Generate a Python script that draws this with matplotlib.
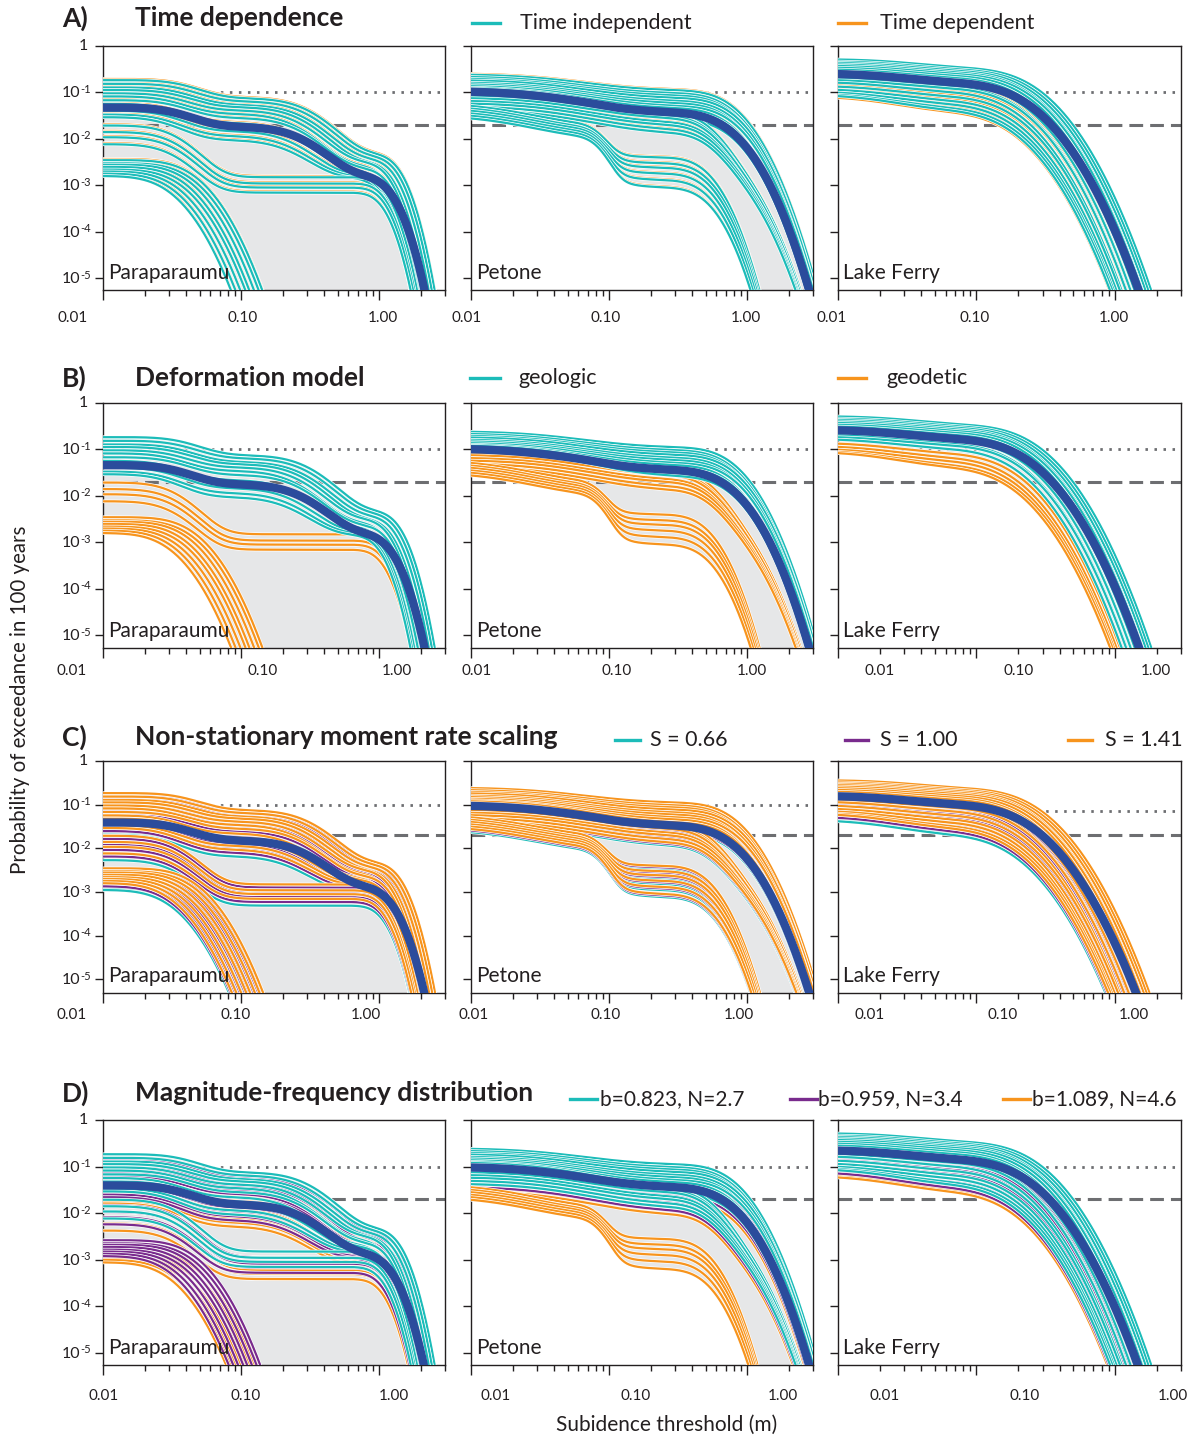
import math
import numpy as np
import matplotlib
matplotlib.use('Agg')
import matplotlib.pyplot as plt
import matplotlib.patheffects as pe
from matplotlib.lines import Line2D
from matplotlib.ticker import FixedLocator, LogLocator, NullFormatter, NullLocator

plt.rcParams['font.family'] = ['Lato', 'DejaVu Sans']

TEAL = '#1cbcb9'
ORANGE = '#f7941d'
PURPLE = '#792b8d'
MEAN_BLUE = '#2b4c9c'
FILL_GREY = '#e6e7e8'
LEVEL_GREY = '#6d6e71'
INK = '#231f20'

SITES = ['Paraparaumu', 'Petone', 'Lake Ferry']

# lognormal displacement components per site: (median subsidence m, log-sigma)
COMPONENTS = {
    'Paraparaumu': [(0.035, 0.4), (0.25, 0.45), (1.1, 0.2)],
    'Petone': [(0.02, 0.8), (0.05, 0.9), (0.085, 0.2), (0.5, 0.3), (0.75, 0.375)],
    'Lake Ferry': [(0.025, 0.7), (0.17, 0.5)],
}

# logic-tree branches: rate of each component, then a shift applied to the medians
GEOLOGIC = {
    'Paraparaumu': [
        (0.110, 0.070, 0.0045, 1.25), (0.090, 0.060, 0.0040, 1.20),
        (0.075, 0.050, 0.0035, 1.15), (0.065, 0.045, 0.0030, 1.10),
        (0.055, 0.038, 0.0030, 1.05), (0.048, 0.032, 0.0025, 1.00),
        (0.040, 0.026, 0.0022, 1.05), (0.035, 0.020, 0.0020, 0.95),
        (0.030, 0.016, 0.0018, 1.00), (0.026, 0.013, 0.0016, 0.95),
        (0.022, 0.010, 0.0015, 0.92), (0.020, 0.008, 0.0014, 0.90),
    ],
    'Petone': [
        (0, 0.135, 0, 0, 0.110, 1.00), (0, 0.125, 0, 0, 0.095, 0.98),
        (0, 0.115, 0, 0, 0.085, 0.97), (0, 0.110, 0, 0, 0.075, 1.00),
        (0, 0.100, 0, 0, 0.065, 0.98), (0, 0.095, 0, 0, 0.058, 0.96),
        (0, 0.090, 0, 0, 0.050, 1.00), (0, 0.085, 0, 0, 0.045, 0.95),
        (0, 0.085, 0, 0, 0.038, 0.98), (0, 0.080, 0, 0, 0.032, 0.96),
        (0, 0.080, 0, 0, 0.028, 1.00), (0, 0.075, 0, 0, 0.026, 0.95),
    ],
    'Lake Ferry': [
        (0.19, 0.33, 1.35), (0.17, 0.30, 1.30), (0.16, 0.28, 1.25),
        (0.15, 0.26, 1.20), (0.14, 0.24, 1.20), (0.13, 0.22, 1.15),
        (0.12, 0.20, 1.10), (0.11, 0.18, 1.10), (0.10, 0.16, 1.05),
        (0.09, 0.15, 1.05), (0.08, 0.13, 1.00), (0.07, 0.12, 1.00),
        (0.07, 0.10, 0.95),
    ],
}
GEODETIC = {
    'Paraparaumu': [
        (0.018, 0, 0.0015, 1.00), (0.013, 0, 0.0011, 0.98),
        (0.010, 0, 0.0009, 0.97), (0.007, 0, 0.0007, 0.95),
        (0.0035, 0, 0, 1.25), (0.0030, 0, 0, 1.20), (0.0028, 0, 0, 1.12),
        (0.0025, 0, 0, 1.05), (0.0022, 0, 0, 1.00), (0.0020, 0, 0, 0.93),
        (0.0018, 0, 0, 0.87), (0.0016, 0, 0, 0.82),
    ],
    'Petone': [
        (0, 0.060, 0, 0.030, 0.0060, 1.00), (0, 0.055, 0, 0.025, 0.0050, 1.00),
        (0, 0.050, 0, 0.022, 0.0050, 1.00), (0, 0.045, 0, 0.018, 0.0040, 1.00),
        (0, 0.040, 0, 0.015, 0.0040, 1.00), (0, 0.035, 0, 0.012, 0.0035, 1.00),
        (0, 0.030, 0, 0.010, 0.0030, 1.00),
        (0.040, 0, 0.015, 0.0040, 0, 1.00), (0.036, 0, 0.013, 0.0030, 0, 1.00),
        (0.032, 0, 0.012, 0.0024, 0, 1.00), (0.028, 0, 0.011, 0.0018, 0, 1.00),
        (0.025, 0, 0.010, 0.0013, 0, 1.00), (0.022, 0, 0.009, 0.0009, 0, 1.00),
    ],
    'Lake Ferry': [
        (0.060, 0.080, 0.95), (0.055, 0.065, 0.92), (0.050, 0.055, 0.90),
        (0.050, 0.045, 0.90), (0.050, 0.040, 0.88),
    ],
}

# rate multipliers for the alternative model choices
TIME_DEPENDENT = {'Paraparaumu': 1.06, 'Petone': 1.05, 'Lake Ferry': 0.92}
S_VALUES = ['S = 0.66', 'S = 1.00', 'S = 1.41']
S_SCALE = {'Paraparaumu': [0.70, 0.85, 1.00], 'Petone': [0.85, 0.93, 1.00],
           'Lake Ferry': [0.50, 0.60, 0.70]}
B_VALUES = ['b=0.823, N=2.7', 'b=0.959, N=3.4', 'b=1.089, N=4.6']
B_SCALE = {'Paraparaumu': [1.00, 0.75, 0.55], 'Petone': [1.00, 0.85, 0.70],
           'Lake Ferry': [1.00, 0.85, 0.70]}
# which branches enter each b-value group: 'tail' keeps those with a large-slip part
B_MEMBERS = {'Paraparaumu': ['tail', 'all', 'all'], 'Petone': ['tail', 'tail', 'all'],
             'Lake Ferry': ['all', 'all', 'all']}

DOTTED_LEVEL = [[0.1, 0.1, 0.1], [0.1, 0.1, 0.1], [0.1, 0.1, 0.07], [0.1, 0.1, 0.1]]
DASHED_LEVEL = [[0.02, 0.02, 0.02]] * 4

TITLES = [('A)', 'Time dependence'), ('B)', 'Deformation model'),
          ('C)', 'Non-stationary moment rate scaling'),
          ('D)', 'Magnitude-frequency distribution')]
X_TICK_TEXT = ['0.01', '0.10', '1.00']
Y_TICK_EXP = [0, -1, -2, -3, -4, -5]

# ---- layout (pixels of the 1195 x 1439 canvas) ----
W, H = 1195, 1439
COL_L = [103, 471, 838]
COL_R = [445, 813, 1181]
ROW_T = [46, 403, 761, 1120]
ROW_B = [290, 648, 993, 1365]
Y_BOTTOM_EXP = [-5.25, -5.27, -5.31, -5.26]
XLAB_PX = [
    [(73, 243, 383), (467, 606, 746), (832, 975, 1114)],
    [(72, 263, 397), (477, 617, 752), (880, 1019, 1156)],
    [(72, 236, 366), (474, 606, 739), (870, 1003, 1134)],
    [(104, 246, 394), (496, 636, 783), (885, 1025, 1173)],
]
XLAB_Y = [318, 671, 1015, 1396]
TITLE_Y = [18, 378, 737, 1093]
LEGEND_ITEMS = [
    [(472, 500, 520, 'Time independent', TEAL), (838, 866, 880, 'Time dependent', ORANGE)],
    [(470, 500, 518, 'geologic', TEAL), (838, 866, 886, 'geodetic', ORANGE)],
    [(615, 640, 650, S_VALUES[0], TEAL), (845, 868, 880, S_VALUES[1], PURPLE),
     (1068, 1092, 1105, S_VALUES[2], ORANGE)],
    [(570, 597, 600, B_VALUES[0], TEAL), (790, 817, 818, B_VALUES[1], PURPLE),
     (1003, 1030, 1032, B_VALUES[2], ORANGE)],
]
LEGEND_Y = [23, 378, 740, 1099]
PT = 0.72  # points per pixel at 100 dpi

X = np.logspace(-2.2, np.log10(3.3), 500)
_erfc = np.vectorize(math.erfc)


def exceedance(branch, comps, scale=1.0):
    rates, shift = branch[:-1], branch[-1]
    p = np.zeros_like(X)
    for r, (med, sig) in zip(rates, comps):
        if r > 0:
            p += scale * r * 0.5 * _erfc(np.log(X / (med * shift)) / (sig * math.sqrt(2)))
    return np.clip(p, 1e-12, None)


def panel_curves(row, site):
    """list of (color, curve) in drawing order"""
    comps = COMPONENTS[site]
    every = GEOLOGIC[site] + GEODETIC[site]
    out = []
    if row == 0:
        out += [(ORANGE, exceedance(b, comps, TIME_DEPENDENT[site])) for b in every]
        out += [(TEAL, exceedance(b, comps)) for b in every]
    elif row == 1:
        out += [(ORANGE, exceedance(b, comps)) for b in GEODETIC[site]]
        out += [(TEAL, exceedance(b, comps)) for b in GEOLOGIC[site]]
    elif row == 2:
        f = S_SCALE[site]
        for b in every:
            for color, k in zip([TEAL, PURPLE, ORANGE], f):
                out.append((color, exceedance(b, comps, k)))
    else:
        f = B_SCALE[site]
        for b in every:
            for g, color in [(2, ORANGE), (1, PURPLE), (0, TEAL)]:
                if B_MEMBERS[site][g] == 'tail' and b[-2] <= 0:
                    continue
                out.append((color, exceedance(b, comps, f[g])))
    return out


fig = plt.figure(figsize=(W / 100, H / 100), dpi=100)
white_edge = [pe.Stroke(linewidth=2.6, foreground='white'), pe.Normal()]

for row in range(4):
    for col, site in enumerate(SITES):
        l, r, t, b = COL_L[col], COL_R[col], ROW_T[row], ROW_B[row]
        ax = fig.add_axes([l / W, 1 - b / H, (r - l) / W, (b - t) / H])
        ax.set_xscale('log')
        ax.set_yscale('log')

        curves = panel_curves(row, site)
        allc = np.array([c for _, c in curves])
        ax.fill_between(X, allc.min(axis=0), allc.max(axis=0), color=FILL_GREY,
                        lw=0, zorder=1)
        ax.axhline(DOTTED_LEVEL[row][col], color=LEVEL_GREY, lw=2.0,
                   ls=(0, (0.9, 2.35)), zorder=2)
        ax.axhline(DASHED_LEVEL[row][col], color=LEVEL_GREY, lw=2.2,
                   ls=(0, (4.5, 2.3)), zorder=2)
        for color, c in curves:
            ax.plot(X, c, color=color, lw=1.6, zorder=3, path_effects=white_edge)
        ax.plot(X, allc.mean(axis=0), color=MEAN_BLUE, lw=6, zorder=4,
                solid_capstyle='butt')

        ax.set_xlim(0.01, 3.0)
        ax.set_ylim(10 ** Y_BOTTOM_EXP[row], 1)
        ax.xaxis.set_major_locator(FixedLocator([0.01, 0.1, 1.0]))
        ax.xaxis.set_minor_locator(LogLocator(base=10, subs=np.arange(2, 10), numticks=20))
        ax.xaxis.set_major_formatter(NullFormatter())
        ax.xaxis.set_minor_formatter(NullFormatter())
        ax.yaxis.set_major_locator(FixedLocator([10.0 ** e for e in Y_TICK_EXP]))
        ax.yaxis.set_minor_locator(NullLocator())
        ax.yaxis.set_major_formatter(NullFormatter())
        ax.tick_params(axis='y', which='major', direction='out', length=5.5, width=1,
                       color=INK)
        ax.tick_params(axis='x', which='major', direction='out', length=7.5, width=1,
                       color=INK)
        ax.tick_params(axis='x', which='minor', direction='out', length=4.5, width=1,
                       color=INK)
        for sp in ax.spines.values():
            sp.set_color(INK)
            sp.set_linewidth(1.0)

        # y labels as "10" with a small raised exponent
        if col == 0:
            for e in Y_TICK_EXP:
                if e == 0:
                    ax.annotate('1', xy=(0, 1.0), xycoords=('axes fraction', 'data'),
                                xytext=(-15 * PT, 0), textcoords='offset points',
                                ha='right', va='center', fontsize=11.5, color=INK)
                    continue
                ax.annotate('10', xy=(0, 10.0 ** e), xycoords=('axes fraction', 'data'),
                            xytext=(-23 * PT, -1 * PT), textcoords='offset points',
                            ha='right', va='center', fontsize=11.5, color=INK)
                ax.annotate(str(e), xy=(0, 10.0 ** e), xycoords=('axes fraction', 'data'),
                            xytext=(-22.5 * PT, 3 * PT), textcoords='offset points',
                            ha='left', va='center', fontsize=8, color=INK)

        for txt, px in zip(X_TICK_TEXT, XLAB_PX[row][col]):
            ax.text((px - l) / (r - l), -(XLAB_Y[row] - b) / (b - t), txt,
                    transform=ax.transAxes, ha='center', va='center', fontsize=11,
                    color=INK, clip_on=False)
        ax.text(5 / (r - l), 17 / (b - t), site, transform=ax.transAxes, ha='left',
                va='center', fontsize=15, color=INK, zorder=10)

    fig.text(62 / W, 1 - TITLE_Y[row] / H, TITLES[row][0], fontsize=19,
             fontweight='bold', color=INK, ha='left', va='center')
    fig.text(135 / W, 1 - TITLE_Y[row] / H, TITLES[row][1], fontsize=19,
             fontweight='bold', color=INK, ha='left', va='center')
    for x0, x1, xt, label, color in LEGEND_ITEMS[row]:
        yy = 1 - LEGEND_Y[row] / H
        fig.add_artist(Line2D([x0 / W, x1 / W], [yy, yy], color=color, lw=2.4,
                              transform=fig.transFigure))
        fig.text(xt / W, yy, label, fontsize=15.5 if row < 3 else 15, color=INK,
                 ha='left', va='center')

fig.text(20 / W, 1 - 700 / H, 'Probability of exceedance in 100 years', rotation=90,
         fontsize=14.8, color=INK, ha='center', va='center')
fig.text(667 / W, 1 - 1425 / H, 'Subidence threshold (m)', fontsize=15, color=INK,
         ha='center', va='center')

fig.savefig('out.png', dpi=100)
